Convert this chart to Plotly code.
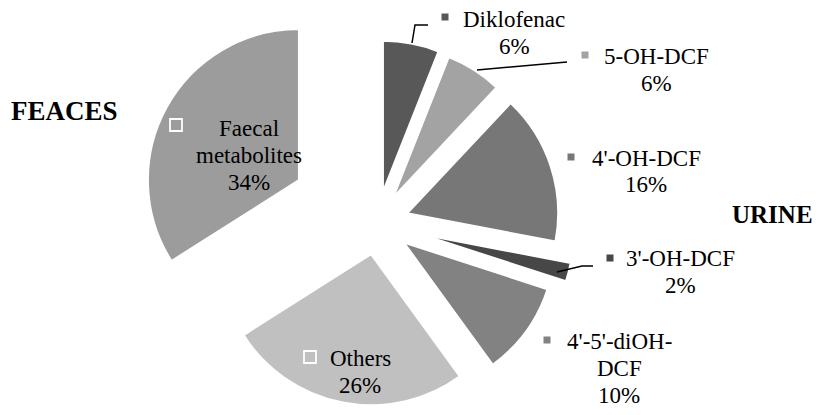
import math
import plotly.graph_objects as go

# ---- data ----
labels = ["Diklofenac", "5-OH-DCF", "4'-OH-DCF", "3'-OH-DCF", "4'-5'-diOH-DCF", "Others", "Faecal metabolites"]
values = [6, 6, 16, 2, 10, 26, 34]
label_lines = [["Diklofenac"], ["5-OH-DCF"], ["4'-OH-DCF"], ["3'-OH-DCF"], ["4'-5'-diOH-", "DCF"], ["Others"], ["Faecal", "metabolites"]]
group_titles = ["FEACES", "URINE"]

# ---- styling ----
colors = ["#585858", "#a3a3a3", "#777777", "#474747", "#828282", "#c0c0c0", "#9c9c9c"]
pulls = [0.21, 0.20, 0.21, 0.31, 0.22, 0.21, 0.59]
OFF = 8  # page body margin offset
W, H = 821 - 2 * OFF, 415 - 2 * OFF
R = 151
CX, CY = 377, 223
FONT = "Liberation Serif, Times New Roman, serif"

# label layout (screen pixel positions): text centre x, first line y, key centre, key size, inside?
label_pos = [
    (514, 19, (445, 17), 7, False),
    (656, 56, (585, 55), 7, False),
    (646, 158, (571, 157), 7, False),
    (680, 258, (610, 258), 7, False),
    (619, 341, (547, 340), 7, False),
    (360, 358, (310, 357), 12, True),
    (249, 128, (176, 125), 12, True),
]
LINE_GAP = 27.0


def px(x):
    return (x - OFF) / W


def py(y):
    return 1 - (y - OFF) / H


fig = go.Figure()
total = sum(values)
acc = 0
for i, v in enumerate(values):
    mid = math.radians((acc + v / 2) / total * 360)
    acc += v
    cx = CX + math.sin(mid) * pulls[i] * R
    cy = CY - math.cos(mid) * pulls[i] * R
    cols = ["rgba(0,0,0,0)"] * len(values)
    cols[i] = colors[i]
    lw = [0] * len(values)
    lw[i] = 2
    y0 = max(0.0, py(cy + R))
    y1 = min(1.0, py(cy - R))
    fig.add_trace(go.Pie(
        values=values, labels=labels, sort=False, direction="clockwise", rotation=0,
        marker=dict(colors=cols, line=dict(color="white", width=lw)),
        textinfo="none", hoverinfo="skip", showlegend=False,
        domain=dict(x=[px(cx - R), px(cx + R)], y=[y0, y1]),
    ))

annotations = []
shapes = []
for i, v in enumerate(values):
    tx, ty, (kx, ky), ks, inside = label_pos[i]
    lines = label_lines[i] + [f"{v}%"]
    for j, t in enumerate(lines):
        annotations.append(dict(x=px(tx), y=py(ty + j * LINE_GAP), xref="paper", yref="paper",
                                text=t, showarrow=False, xanchor="center", yanchor="middle",
                                borderpad=0,
                                font=dict(family=FONT, size=23, color="#000000")))
    shapes.append(dict(type="rect", xref="paper", yref="paper",
                       x0=px(kx - ks / 2), x1=px(kx + ks / 2), y0=py(ky + ks / 2), y1=py(ky - ks / 2),
                       fillcolor=colors[i],
                       line=dict(color="white", width=1.8 if inside else 0)))

# group titles
annotations.append(dict(x=px(64), y=py(111), xref="paper", yref="paper", text=f"<b>{group_titles[0]}</b>",
                        showarrow=False, xanchor="center", yanchor="middle",
                        font=dict(family=FONT, size=27, color="#000000")))
annotations.append(dict(x=px(772), y=py(214), xref="paper", yref="paper", text=f"<b>{group_titles[1]}</b>",
                        showarrow=False, xanchor="center", yanchor="middle",
                        font=dict(family=FONT, size=25, color="#000000")))

# leader lines
leaders = [
    [(412, 43), (415, 25), (428, 25)],
    [(477, 70), (567, 62)],
    [(557, 272), (582, 266), (593, 266)],
]
for pts in leaders:
    path = "M " + " L ".join(f"{px(x):.5f},{py(y):.5f}" for x, y in pts)
    shapes.append(dict(type="path", xref="paper", yref="paper", path=path,
                       line=dict(color="#000000", width=1.5)))

fig.update_layout(
    width=W, height=H, margin=dict(l=0, r=0, t=0, b=0),
    paper_bgcolor="white", plot_bgcolor="white",
    annotations=annotations, shapes=shapes,
)
fig.write_html("out.html")
